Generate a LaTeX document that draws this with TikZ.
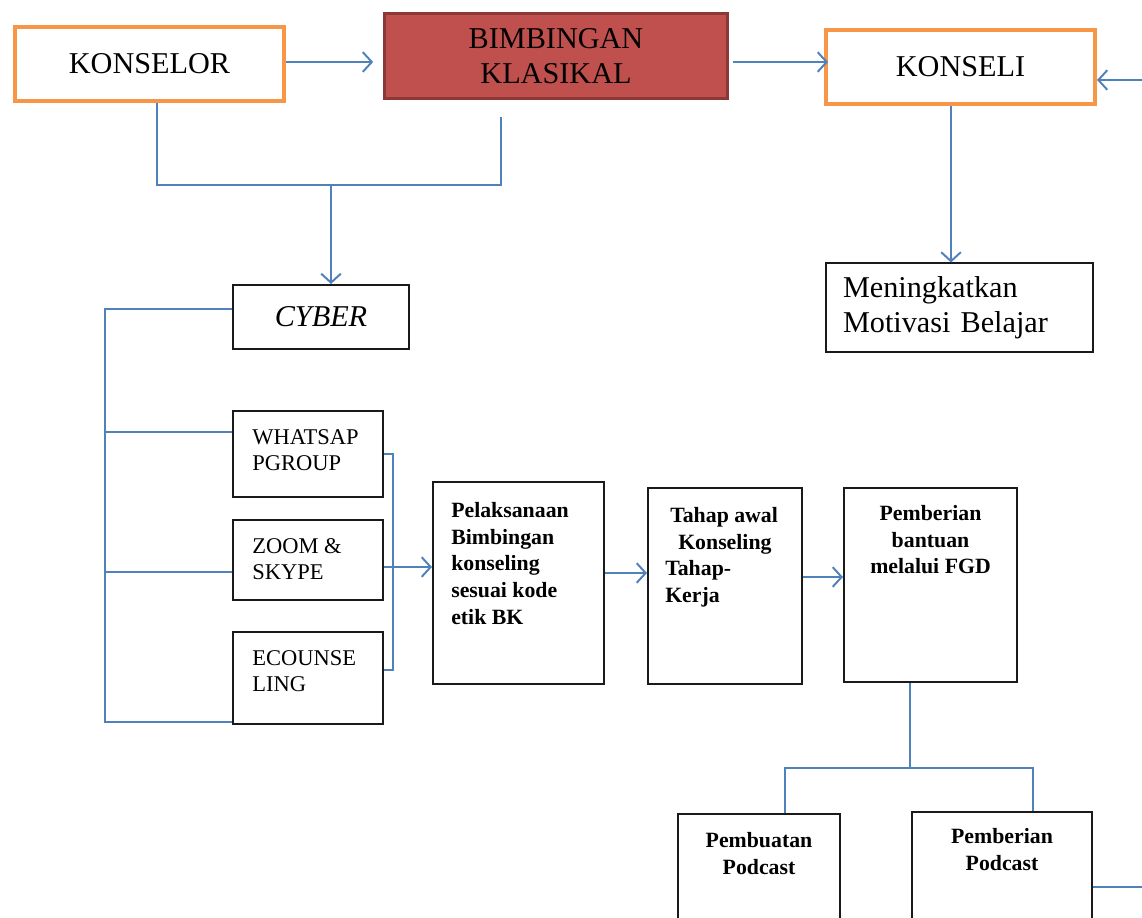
\documentclass[tikz,border=0pt]{standalone}
\usepackage{fontspec}
\setmainfont{Liberation Serif}
\usepackage{xcolor}
\usetikzlibrary{positioning, arrows.meta, calc}

\newlength\pxu
\setlength\pxu{0.025cm}
\newcommand{\bigtxt}{\fontsize{21.5}{25}\selectfont}
\newcommand{\captxt}{\fontsize{16}{19}\selectfont}
\newcommand{\boldtxt}{\fontsize{15.5}{19}\selectfont\bfseries}

\definecolor{boxorange}{HTML}{F79646}
\definecolor{boxred}{HTML}{C0504D}
\definecolor{boxredline}{HTML}{8C3836}
\definecolor{boxblack}{HTML}{1A1A1A}
\definecolor{linkblue}{HTML}{4F81BD}

\begin{document}
\begin{tikzpicture}[
    x=\pxu, y=-\pxu,
    orangebox/.style={rectangle, draw=boxorange, line width=4\pxu, minimum width=269\pxu, minimum height=74\pxu, font=\bigtxt},
    redbox/.style={rectangle, draw=boxredline, fill=boxred, line width=3\pxu, font=\bigtxt, align=center},
    plainbox/.style={rectangle, draw=boxblack, line width=2\pxu, inner sep=0pt},
    lbl/.style={inner sep=0pt, align=left},
    link/.style={draw=linkblue, line width=1.4pt},
    arr/.style={link, -{Straight Barb[length=6.4pt, width=14pt]}},
]
\clip (0,0) rectangle (1142,918);

% top row
\node[orangebox](konselor) at (149.5,64) {KONSELOR};
\node[redbox, minimum width=343\pxu, minimum height=85\pxu](bk) at (556,56) {BIMBINGAN\\KLASIKAL};
\node[orangebox](konseli) at (960.5,67) {KONSELI};
\node[plainbox, minimum width=267\pxu, minimum height=88\pxu, text width=232\pxu, align=left, font=\bigtxt](men) at (959,307.5) {Meningkatkan\\Motivasi Belajar};

% media
\node[plainbox, minimum width=176\pxu, minimum height=64\pxu, font=\bigtxt\itshape](cyber) at (321,317) {CYBER};
\node[plainbox, minimum width=150\pxu, minimum height=86\pxu,
      label={[lbl, font=\captxt, anchor=north west, xshift=20\pxu, yshift=-19\pxu]north west:WHATSAP\\PGROUP}](wa) at (308,454) {};
\node[plainbox, minimum width=150\pxu, minimum height=80\pxu,
      label={[lbl, font=\captxt, anchor=north west, xshift=20\pxu, yshift=-19\pxu]north west:ZOOM \&\\SKYPE}](zm) at (308,560) {};
\node[plainbox, minimum width=150\pxu, minimum height=92\pxu,
      label={[lbl, font=\captxt, anchor=north west, xshift=20\pxu, yshift=-19\pxu]north west:ECOUNSE\\LING}](ec) at (308,678) {};

% steps
\node[plainbox, minimum width=171\pxu, minimum height=202\pxu,
      label={[lbl, font=\boldtxt, anchor=north west, xshift=19\pxu, yshift=-21\pxu]north west:Pelaksanaan\\Bimbingan\\konseling\\sesuai kode\\etik BK}](pel) at (518.5,583) {};
\node[plainbox, minimum width=154\pxu, minimum height=196\pxu,
      label={[lbl, font=\boldtxt, anchor=north west, xshift=18\pxu, yshift=-20\pxu]north west:\hspace*{5\pxu}Tahap awal\\\hspace*{13\pxu}Konseling\\Tahap-\\Kerja}](tahap) at (725,586) {};
\node[plainbox, minimum width=173\pxu, minimum height=194\pxu,
      label={[lbl, align=center, font=\boldtxt, anchor=north, yshift=-18\pxu]north:Pemberian\\bantuan\\melalui FGD}](pb) at (930.5,585) {};
\node[plainbox, minimum width=162\pxu, minimum height=186\pxu,
      label={[lbl, align=center, font=\boldtxt, anchor=north, yshift=-19\pxu]north:Pembuatan\\Podcast}](pp1) at (759,907) {};
\node[plainbox, minimum width=180\pxu, minimum height=188\pxu,
      label={[lbl, align=center, font=\boldtxt, anchor=north, yshift=-17\pxu]north:Pemberian\\Podcast}](pp2) at (1002,906) {};

% helper points
\coordinate (jc) at (331,185);
\coordinate (bend) at (105,722);
\coordinate (brk) at (393,670);
\coordinate (jp) at (910,768);
\coordinate (rin) at (1142,80);
\coordinate (rout) at (1142,887);

% connectors
\draw[arr, shorten >=7pt] ([yshift=2\pxu]konselor.east) -- ([yshift=2\pxu]konselor.east -| bk.west);
\draw[arr] ([xshift=4\pxu, yshift=-6\pxu]bk.east) -- ([xshift=4\pxu, yshift=-6\pxu]bk.east -| konseli.west);
\draw[arr] (rin) -- (rin -| konseli.east);
\draw[arr] ([xshift=-9.5\pxu]konseli.south) -- ([xshift=-9.5\pxu]konseli.south |- men.north);
\draw[link, shorten >=12pt] ([xshift=7.5\pxu]konselor.south) |- (jc) -| ([xshift=-55\pxu]bk.south);
\draw[arr] (jc) -- (jc |- cyber.north);
\draw[link] ([yshift=8\pxu]cyber.west) -| (bend) -- (bend -| ec.west);
\draw[link] ([yshift=22\pxu]wa.west) -- ([yshift=22\pxu]wa.west -| bend);
\draw[link] ([yshift=-12\pxu]zm.west) -- ([yshift=-12\pxu]zm.west -| bend);
\draw[link] (wa.east) -| (brk) -- (brk -| ec.east);
\draw[arr] ([yshift=-7\pxu]zm.east) -- ([yshift=-7\pxu]zm.east -| pel.west);
\draw[arr] ([yshift=10\pxu]pel.east) -- ([yshift=10\pxu]pel.east -| tahap.west);
\draw[arr] ([yshift=9\pxu]tahap.east) -- ([yshift=9\pxu]tahap.east -| pb.west);
\draw[link] (jp |- pb.south) -- (jp);
\draw[link] ([xshift=26\pxu]pp1.north) |- (jp) -| ([xshift=31\pxu]pp2.north);
\draw[link] (rout -| pp2.east) -- (rout);
\end{tikzpicture}
\end{document}
